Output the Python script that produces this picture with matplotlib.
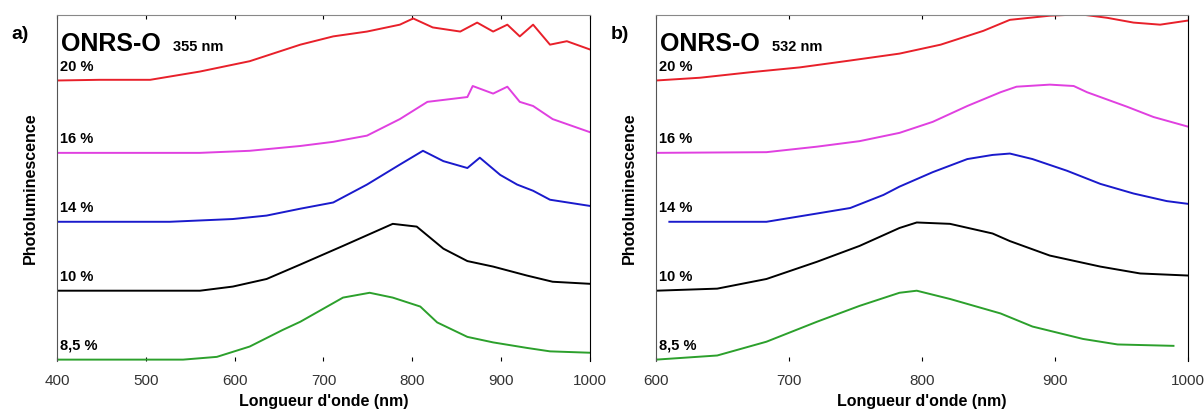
import matplotlib.pyplot as plt
import numpy as np

plt.rcParams['font.family'] = ['Liberation Sans', 'DejaVu Sans']

# sample labels, bottom to top
labels = ["8,5 %", "10 %", "14 %", "16 %", "20 %"]
colors = ["#2ca02c", "black", "#1a1acc", "#e040e0", "#e8202a"]
offsets = [0.0, 1.0, 2.0, 3.0, 4.05]

# panel a) excitation 355 nm, normalised PL
a_green_nm = [400, 542, 580, 617, 654, 674, 722, 752, 778, 809, 828, 862, 891, 929, 955, 1000]
a_green = [0, 0, 0.04, 0.19, 0.43, 0.55, 0.90, 0.97, 0.90, 0.77, 0.54, 0.33, 0.25, 0.17, 0.12, 0.10]
a_black_nm = [400, 561, 598, 636, 674, 722, 778, 805, 835, 862, 891, 929, 958, 1000]
a_black = [0, 0, 0.06, 0.17, 0.38, 0.65, 0.97, 0.93, 0.61, 0.43, 0.35, 0.22, 0.13, 0.10]
a_blue_nm = [400, 527, 598, 636, 674, 711, 749, 786, 812, 835, 862, 876, 899, 918, 936, 955, 1000]
a_blue = [0, 0, 0.04, 0.09, 0.19, 0.28, 0.54, 0.83, 1.03, 0.88, 0.78, 0.93, 0.68, 0.54, 0.45, 0.32, 0.23]
a_mag_nm = [400, 561, 617, 674, 711, 749, 786, 817, 862, 868, 891, 907, 921, 936, 958, 1000]
a_mag = [0, 0, 0.03, 0.10, 0.16, 0.25, 0.49, 0.74, 0.81, 0.97, 0.86, 0.96, 0.74, 0.68, 0.49, 0.30]
a_red_nm = [400, 448, 505, 561, 617, 674, 711, 749, 786, 801, 823, 854, 873, 891, 907, 921, 936, 955, 974, 1000]
a_red = [0, 0.01, 0.01, 0.13, 0.28, 0.52, 0.64, 0.71, 0.81, 0.90, 0.77, 0.71, 0.84, 0.71, 0.81, 0.64, 0.81, 0.52, 0.57, 0.45]

# panel b) excitation 532 nm
b_green_nm = [600, 646, 683, 721, 753, 783, 796, 821, 859, 883, 921, 947, 989]
b_green = [0, 0.06, 0.26, 0.55, 0.78, 0.97, 1.0, 0.88, 0.67, 0.48, 0.30, 0.22, 0.20]
b_black_nm = [600, 646, 683, 721, 753, 783, 796, 821, 853, 866, 896, 934, 964, 1000]
b_black = [0, 0.03, 0.17, 0.42, 0.65, 0.91, 0.99, 0.97, 0.83, 0.72, 0.51, 0.35, 0.25, 0.22]
b_blue_nm = [610, 683, 721, 746, 771, 783, 808, 834, 853, 866, 883, 909, 934, 959, 984, 1000]
b_blue = [0, 0, 0.12, 0.20, 0.39, 0.51, 0.72, 0.91, 0.97, 0.99, 0.91, 0.74, 0.55, 0.41, 0.30, 0.26]
b_mag_nm = [600, 683, 721, 753, 783, 808, 834, 859, 871, 896, 914, 924, 954, 974, 1000]
b_mag = [0, 0.01, 0.09, 0.17, 0.29, 0.45, 0.68, 0.88, 0.96, 0.99, 0.97, 0.88, 0.67, 0.52, 0.38]
b_red_nm = [600, 633, 671, 708, 746, 783, 814, 846, 866, 896, 919, 939, 959, 979, 1000]
b_red = [0, 0.04, 0.12, 0.19, 0.29, 0.39, 0.52, 0.72, 0.88, 0.94, 0.96, 0.91, 0.84, 0.81, 0.87]

a_series = [(a_green_nm, a_green), (a_black_nm, a_black), (a_blue_nm, a_blue),
            (a_mag_nm, a_mag), (a_red_nm, a_red)]
b_series = [(b_green_nm, b_green), (b_black_nm, b_black), (b_blue_nm, b_blue),
            (b_mag_nm, b_mag), (b_red_nm, b_red)]


def panel(ax, series, xlim, xticks, tag, exc):
    for (x, y), off, c, lab in zip(series, offsets, colors, labels):
        ax.plot(x, np.array(y) + off, '-', color=c, lw=1.4)
        ax.text(xlim[0] + 0.005 * (xlim[1] - xlim[0]), off + 0.2, lab,
                fontsize=10.5, fontweight='bold', ha='left', va='center')
    ax.set_xlim(*xlim)
    ax.set_ylim(-0.02, 5.0)
    ax.set_xticks(xticks)
    ax.set_yticks([])
    ax.spines['bottom'].set_visible(False)
    ax.spines['top'].set_color('#888888')
    ax.spines['left'].set_color('#555555')
    ax.spines['right'].set_color('black')
    ax.tick_params(axis='x', direction='in', length=3, labelsize=11,
                   top=True, labelcolor='#333333', pad=9)
    ax.set_xlabel("Longueur d'onde (nm)", fontsize=11.5, fontweight='bold', labelpad=5)
    ax.set_ylabel("Photoluminescence", fontsize=11.5, fontweight='bold', labelpad=14)
    ax.text(-0.085, 0.93, tag, transform=ax.transAxes, fontsize=14, fontweight='bold')
    ax.text(0.008, 0.895, "ONRS-O", transform=ax.transAxes, fontsize=18, fontweight='bold')
    ax.text(0.218, 0.895, exc, transform=ax.transAxes, fontsize=10.5, fontweight='bold')


fig = plt.figure(figsize=(12.04, 4.16), dpi=100)
ax_a = fig.add_axes([0.0473, 0.1322, 0.4427, 0.8317])
ax_b = fig.add_axes([0.5449, 0.1322, 0.4419, 0.8317])

panel(ax_a, a_series, (400, 1000), [400, 500, 600, 700, 800, 900, 1000], "a)", "355 nm")
panel(ax_b, b_series, (600, 1000), [600, 700, 800, 900, 1000], "b)", "532 nm")

fig.savefig("out.png", dpi=100)
